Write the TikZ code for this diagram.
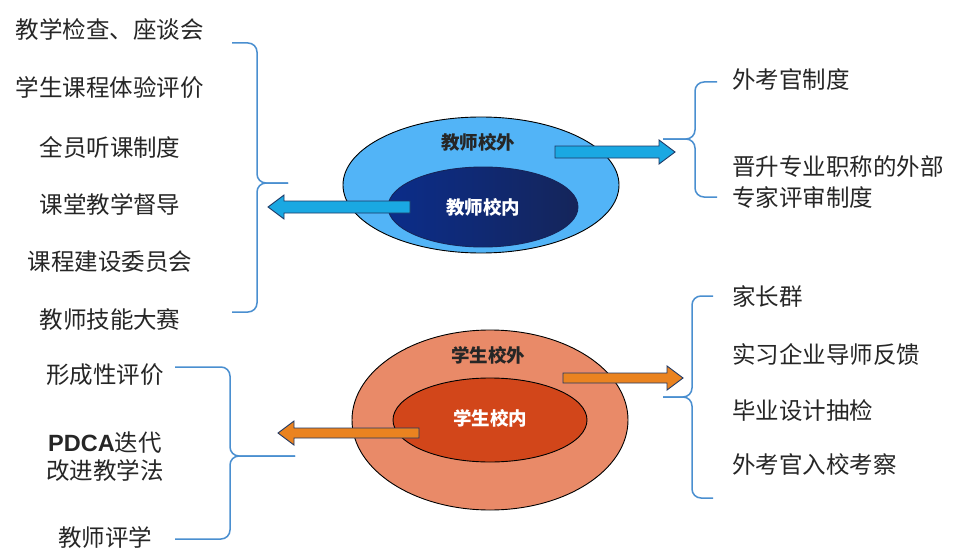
\documentclass[tikz,border=0pt]{standalone}
\usepackage{fontspec}
\setmainfont{Noto Sans CJK SC}
\newfontfamily\pdcafont{Liberation Sans}
\usetikzlibrary{shapes.geometric}
\definecolor{txtc}{HTML}{262626}
\definecolor{bracec}{HTML}{4A8FD0}
\definecolor{tout}{HTML}{52B4F7}
\definecolor{tinL}{HTML}{0B2D8A}
\definecolor{tinR}{HTML}{15255A}
\definecolor{bout}{HTML}{E98A68}
\definecolor{bin}{HTML}{D2461A}
\definecolor{barrow}{HTML}{1AA8E2}
\definecolor{oarrow}{HTML}{EA8320}
\definecolor{arrline}{HTML}{1F3864}
\begin{document}
\begin{tikzpicture}[x=1pt,y=-1pt,
  lbl/.style={font=\fontsize{23.5}{28}\selectfont, text=txtc, inner sep=0pt},
  elbl/.style={font=\fontsize{18.5}{22}\selectfont\bfseries, inner sep=0pt},
  ell/.style={ellipse, draw=black, line width=0.9pt, inner sep=0pt},
  brc/.style={draw=bracec, line width=1.5pt, rounded corners=9pt},
  blk/.style={draw=arrline, line width=0.9pt, line join=miter}]
\clip (0,0) rectangle (954,551);
\fill[white] (0,0) rectangle (954,551);

% ellipses
\node[ell, fill=tout, minimum width=276pt, minimum height=136pt] (tOut) at (481,185) {};
\node[ell, draw=tinR, left color=tinL, right color=tinR, minimum width=190pt, minimum height=80pt] (tIn) at (483,207) {};
\node[elbl, text=txtc] (tOutL) at (478,142) {教师校外};
\node[elbl, text=white] (tInL) at (483,207) {教师校内};

\node[ell, fill=bout, minimum width=276pt, minimum height=180pt] (bOut) at (490,420) {};
\node[ell, fill=bin, minimum width=194pt, minimum height=84pt] (bIn) at (490,420) {};
\node[elbl, text=txtc] (bOutL) at (488,355) {学生校外};
\node[elbl, text=white] (bInL) at (490,418) {学生校内};

% block arrows
\draw[blk, fill=barrow] (555,146) -- (659,146) -- (659,140) -- (675,152) -- (659,164) -- (659,158) -- (555,158) -- cycle;
\draw[blk, fill=barrow] (410,201) -- (284,201) -- (284,195) -- (268,207) -- (284,219) -- (284,213) -- (410,213) -- cycle;
\draw[blk, fill=oarrow] (563,373) -- (667,373) -- (667,366) -- (683,378) -- (667,390) -- (667,383) -- (563,383) -- cycle;
\draw[blk, fill=oarrow] (419,428) -- (294,428) -- (294,421) -- (278,433) -- (294,445) -- (294,438) -- (419,438) -- cycle;

% braces
\coordinate (b1tip) at (288,183);
\draw[brc] (232,43) -- (257,43) -- (257,183) -- (b1tip);
\draw[brc] (b1tip) -- (257,183) -- (257,312) -- (232,312);

\coordinate (b2tip) at (295,456);
\draw[brc] (175,367) -- (230,367) -- (230,456) -- (b2tip);
\draw[brc] (b2tip) -- (230,456) -- (230,539) -- (175,539);

\coordinate (b3tip) at (663,139);
\draw[brc] (717,82) -- (695,82) -- (695,139) -- (b3tip);
\draw[brc] (b3tip) -- (695,139) -- (695,197) -- (717,197);

\coordinate (b4tip) at (663,397);
\draw[brc] (713,296) -- (692,296) -- (692,397) -- (b4tip);
\draw[brc] (b4tip) -- (692,397) -- (692,498) -- (713,498);

% left top texts
\node[lbl] (l1) at (110,30) {教学检查、座谈会};
\node[lbl] (l2) at (110,88) {学生课程体验评价};
\node[lbl] (l3) at (110,147) {全员听课制度};
\node[lbl] (l4) at (110,204) {课堂教学督导};
\node[lbl] (l5) at (110,262) {课程建设委员会};
\node[lbl] (l6) at (110,320) {教师技能大赛};

% left bottom texts
\node[lbl] (m1) at (105,375) {形成性评价};
\node[lbl] (m2) at (105,443) {{\pdcafont\bfseries PDCA}迭代};
\node[lbl] (m3) at (105,471) {改进教学法};
\node[lbl] (m4) at (105,537) {教师评学};

% right texts
\node[lbl, anchor=west] (r1) at (732,80) {外考官制度};
\node[lbl, anchor=west] (r2) at (732,167) {晋升专业职称的外部};
\node[lbl, anchor=west] (r3) at (732,197) {专家评审制度};
\node[lbl, anchor=west] (s1) at (732,296) {家长群};
\node[lbl, anchor=west] (s2) at (732,354) {实习企业导师反馈};
\node[lbl, anchor=west] (s3) at (732,411) {毕业设计抽检};
\node[lbl, anchor=west] (s4) at (732,465) {外考官入校考察};
\end{tikzpicture}
\end{document}
